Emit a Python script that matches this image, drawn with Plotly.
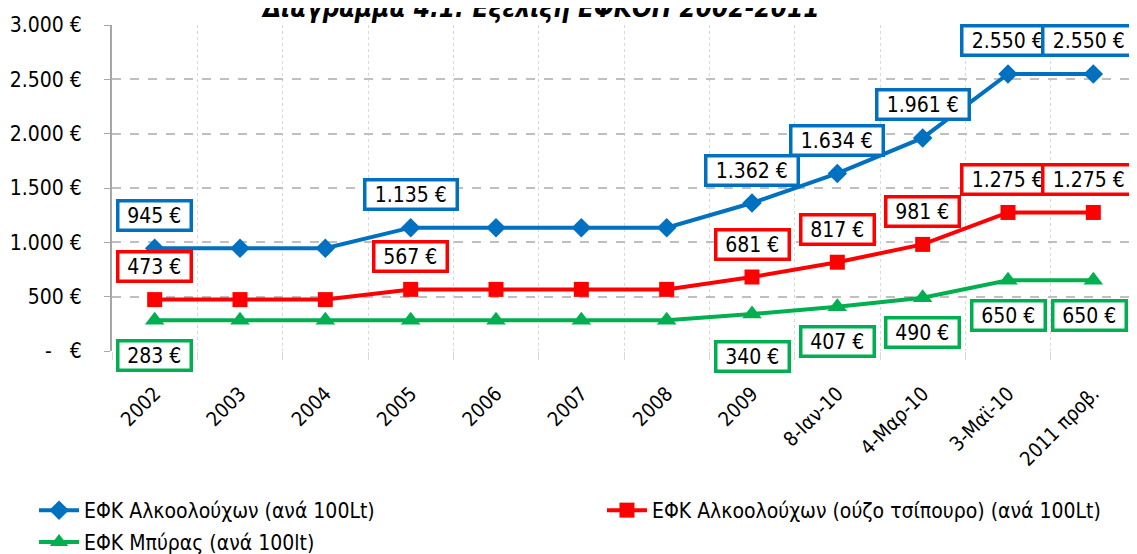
import plotly.graph_objects as go

categories = ["2002", "2003", "2004", "2005", "2006", "2007", "2008", "2009",
              "8-Ιαν-10", "4-Μαρ-10", "3-Μαϊ-10", "2011 προβ."]
alcohol = [945, 945, 945, 1135, 1135, 1135, 1135, 1362, 1634, 1961, 2550, 2550]
ouzo = [473, 473, 473, 567, 567, 567, 567, 681, 817, 981, 1275, 1275]
beer = [283, 283, 283, 283, 283, 283, 283, 340, 407, 490, 650, 650]

names = ["ΕΦΚ Αλκοολούχων (ανά 100Lt)",
         "ΕΦΚ Αλκοολούχων (ούζο τσίπουρο) (ανά 100Lt)",
         "ΕΦΚ Μπύρας (ανά 100lt)"]
colors = ["#0070C0", "#FF0000", "#00B050"]
symbols = ["diamond", "square", "triangle-up"]
msizes = [15, 15, 17]
legends = ["legend", "legend2", "legend3"]

# which points carry a data label
label_idx_alcohol = [0, 3, 7, 8, 9, 10, 11]
label_idx_ouzo = [0, 3, 7, 8, 9, 10, 11]
label_idx_beer = [0, 7, 8, 9, 10, 11]

y_ticks = [0, 500, 1000, 1500, 2000, 2500, 3000]
y_ticktext = ["-\u00a0\u00a0\u00a0€", "500 €", "1.000 €", "1.500 €", "2.000 €", "2.500 €", "3.000 €"]

FONT = "DejaVu Sans Condensed"


def fmt(v):
    return f"{v:,}".replace(",", ".") + " €"


fig = go.Figure()
series = [alcohol, ouzo, beer]
for s, n, c, sym, ms, lg in zip(series, names, colors, symbols, msizes, legends):
    fig.add_trace(go.Scatter(
        x=categories, y=s, name=n, mode="lines+markers",
        line=dict(color=c, width=4),
        marker=dict(symbol=sym, size=ms, color=c),
        legend=lg,
    ))

label_sets = [(alcohol, label_idx_alcohol, colors[0], 33),
              (ouzo, label_idx_ouzo, colors[1], 33),
              (beer, label_idx_beer, colors[2], -35)]
for s, idxs, c, shift in label_sets:
    for i in idxs:
        txt = fmt(s[i])
        ys = shift
        if s is beer and i == 7:
            ys = -42
        xs = 0
        if i == 11:
            xs = -4
        fig.add_annotation(
            x=i, y=s[i], text=txt, showarrow=False,
            xshift=xs, yshift=ys,
            font=dict(family=FONT, size=21, color="black"),
            bgcolor="white", bordercolor=c, borderwidth=3.5, borderpad=2,
            width=9.5 * len(txt) + 18, height=22,
        )

fig.add_annotation(
    xref="paper", yref="paper", x=0.418, y=1.052, yanchor="middle",
    text="<b><i>Διάγραμμα 4.1: Εξέλιξη ΕΦΚΟΠ 2002-2011</i></b>",
    showarrow=False, font=dict(family=FONT, size=26, color="black"),
)

leg_common = dict(xref="container", yref="container", xanchor="left", yanchor="top",
                  font=dict(family=FONT, size=21, color="black"),
                  bgcolor="rgba(0,0,0,0)", itemwidth=40)

fig.update_layout(
    width=1137, height=554,
    margin=dict(l=104, r=9, t=17, b=211, autoexpand=False),
    plot_bgcolor="white", paper_bgcolor="white",
    font=dict(family=FONT, size=20, color="black"),
    showlegend=True,
    legend=dict(x=0.0229, y=0.130, **leg_common),
    legend2=dict(x=0.5224, y=0.130, **leg_common),
    legend3=dict(x=0.0229, y=0.0725, **leg_common),
    xaxis=dict(
        type="category", tickangle=-45, tickson="boundaries",
        range=[-0.5, len(categories) - 0.5],
        showgrid=True, gridcolor="#d9d9d9", griddash="dot", gridwidth=1,
        ticks="outside", ticklen=8, tickcolor="#d9d9d9",
        showline=False, zeroline=False,
        tickfont=dict(family=FONT, size=20),
        ticklabelstandoff=26,
    ),
    yaxis=dict(
        range=[0, 3000], tickvals=y_ticks, ticktext=y_ticktext,
        showgrid=True, gridcolor="#bfbfbf", griddash="dash", gridwidth=1.5,
        showline=True, linecolor="#a6a6a6", linewidth=2,
        ticks="outside", ticklen=6, tickcolor="#a6a6a6",
        zeroline=False, tickfont=dict(family=FONT, size=21),
        ticklabelstandoff=18,
    ),
)

fig.write_html("out.html")
